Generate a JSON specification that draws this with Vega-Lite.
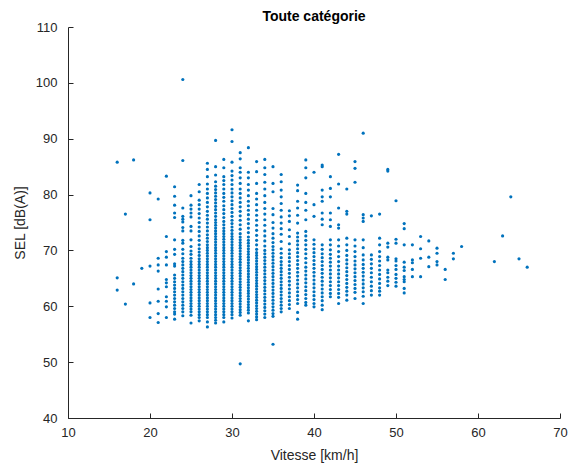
{
"$schema": "https://vega.github.io/schema/vega-lite/v6.json",
"width": 492, "height": 391,
"autosize": "none",
"padding": {"left": 68, "top": 27, "right": 15, "bottom": 49},
"background": "white",
"config": {"view": {"stroke": null}, "font": "Liberation Sans"},
"title": {"text": "Toute catégorie", "fontSize": 14, "fontWeight": "bold", "color": "#000000", "offset": -3, "anchor": "middle", "font": "Liberation Sans"},
"data": {"values": [
{"v":16,"s":85.8},{"v":16,"s":65.1},{"v":16,"s":62.9},
{"v":17,"s":76.5},{"v":17,"s":60.4},
{"v":18,"s":86.2},{"v":18,"s":64.0},
{"v":19,"s":66.8},
{"v":20,"s":80.3},{"v":20,"s":75.5},{"v":20,"s":67.2},{"v":20,"s":60.6},{"v":20,"s":58.0},
{"v":21,"s":79.2},{"v":21,"s":68.6},{"v":21,"s":67.4},{"v":21,"s":66.3},{"v":21,"s":63.1},{"v":21,"s":60.9},{"v":21,"s":58.7},{"v":21,"s":57.1},
{"v":22,"s":83.3},{"v":22,"s":72.5},{"v":22,"s":69.8},{"v":22,"s":68.8},{"v":22,"s":67.4},{"v":22,"s":64.8},{"v":22,"s":64.2},{"v":22,"s":63.5},{"v":22,"s":61.7},{"v":22,"s":60.9},{"v":22,"s":59.9},{"v":22,"s":58.0},
{"v":23,"s":81.4},{"v":23,"s":79.7},{"v":23,"s":78.1},{"v":23,"s":76.7},{"v":23,"s":75.9},{"v":23,"s":71.9},{"v":23,"s":70.2},{"v":23,"s":69.3},{"v":23,"s":67.6},{"v":23,"s":67.2},{"v":23,"s":65.6},{"v":23,"s":65.0},{"v":23,"s":64.4},{"v":23,"s":63.8},{"v":23,"s":63.2},{"v":23,"s":62.6},{"v":23,"s":62.0},{"v":23,"s":61.4},{"v":23,"s":60.8},{"v":23,"s":60.2},{"v":23,"s":59.6},{"v":23,"s":59.0},{"v":23,"s":58.6},{"v":23,"s":57.7},
{"v":24,"s":100.6},{"v":24,"s":86.1},{"v":24,"s":77.6},{"v":24,"s":76.1},{"v":24,"s":75.6},{"v":24,"s":75.1},{"v":24,"s":74.1},{"v":24,"s":73.5},{"v":24,"s":71.8},{"v":24,"s":71.3},{"v":24,"s":70.2},{"v":24,"s":69.4},{"v":24,"s":68.6},{"v":24,"s":68.0},{"v":24,"s":67.4},{"v":24,"s":66.8},{"v":24,"s":66.2},{"v":24,"s":65.6},{"v":24,"s":65.0},{"v":24,"s":64.4},{"v":24,"s":63.8},{"v":24,"s":63.2},{"v":24,"s":62.6},{"v":24,"s":62.0},{"v":24,"s":61.4},{"v":24,"s":60.8},{"v":24,"s":60.2},{"v":24,"s":59.6},{"v":24,"s":59.0},{"v":24,"s":58.3},
{"v":25,"s":79.8},{"v":25,"s":78.1},{"v":25,"s":77.4},{"v":25,"s":76.7},{"v":25,"s":76.0},{"v":25,"s":74.3},{"v":25,"s":73.5},{"v":25,"s":71.9},{"v":25,"s":70.7},{"v":25,"s":69.9},{"v":25,"s":69.3},{"v":25,"s":68.6},{"v":25,"s":68.0},{"v":25,"s":67.5},{"v":25,"s":67.0},{"v":25,"s":66.5},{"v":25,"s":66.0},{"v":25,"s":65.5},{"v":25,"s":65.0},{"v":25,"s":64.5},{"v":25,"s":64.0},{"v":25,"s":63.5},{"v":25,"s":63.0},{"v":25,"s":62.5},{"v":25,"s":62.0},{"v":25,"s":61.5},{"v":25,"s":61.0},{"v":25,"s":60.5},{"v":25,"s":60.0},{"v":25,"s":59.5},{"v":25,"s":59.0},{"v":25,"s":58.4},{"v":25,"s":57.0},
{"v":26,"s":81.8},{"v":26,"s":80.5},{"v":26,"s":79.0},{"v":26,"s":78.2},{"v":26,"s":77.4},{"v":26,"s":76.6},{"v":26,"s":75.8},{"v":26,"s":75.0},{"v":26,"s":74.2},{"v":26,"s":73.4},{"v":26,"s":72.6},{"v":26,"s":71.8},{"v":26,"s":71.0},{"v":26,"s":70.3},{"v":26,"s":69.7},{"v":26,"s":69.1},{"v":26,"s":68.5},{"v":26,"s":68.0},{"v":26,"s":67.5},{"v":26,"s":67.0},{"v":26,"s":66.5},{"v":26,"s":66.0},{"v":26,"s":65.5},{"v":26,"s":65.0},{"v":26,"s":64.5},{"v":26,"s":64.0},{"v":26,"s":63.5},{"v":26,"s":63.0},{"v":26,"s":62.5},{"v":26,"s":62.0},{"v":26,"s":61.5},{"v":26,"s":61.0},{"v":26,"s":60.5},{"v":26,"s":60.0},{"v":26,"s":59.5},{"v":26,"s":59.0},{"v":26,"s":58.5},{"v":26,"s":58.0},{"v":26,"s":57.4},
{"v":27,"s":85.6},{"v":27,"s":84.5},{"v":27,"s":83.2},{"v":27,"s":81.9},{"v":27,"s":81.0},{"v":27,"s":80.2},{"v":27,"s":79.4},{"v":27,"s":78.6},{"v":27,"s":77.8},{"v":27,"s":77.0},{"v":27,"s":76.3},{"v":27,"s":75.6},{"v":27,"s":74.9},{"v":27,"s":74.2},{"v":27,"s":73.5},{"v":27,"s":72.8},{"v":27,"s":72.2},{"v":27,"s":71.6},{"v":27,"s":71.0},{"v":27,"s":70.5},{"v":27,"s":70.0},{"v":27,"s":69.5},{"v":27,"s":69.0},{"v":27,"s":68.5},{"v":27,"s":68.0},{"v":27,"s":67.5},{"v":27,"s":67.0},{"v":27,"s":66.5},{"v":27,"s":66.0},{"v":27,"s":65.5},{"v":27,"s":65.0},{"v":27,"s":64.5},{"v":27,"s":64.0},{"v":27,"s":63.5},{"v":27,"s":63.0},{"v":27,"s":62.5},{"v":27,"s":62.0},{"v":27,"s":61.5},{"v":27,"s":61.0},{"v":27,"s":60.5},{"v":27,"s":60.0},{"v":27,"s":59.5},{"v":27,"s":59.0},{"v":27,"s":58.5},{"v":27,"s":58.0},{"v":27,"s":57.2},{"v":27,"s":56.3},
{"v":28,"s":89.7},{"v":28,"s":85.0},{"v":28,"s":83.5},{"v":28,"s":82.3},{"v":28,"s":81.5},{"v":28,"s":80.9},{"v":28,"s":80.3},{"v":28,"s":79.7},{"v":28,"s":79.1},{"v":28,"s":78.5},{"v":28,"s":77.9},{"v":28,"s":77.3},{"v":28,"s":76.7},{"v":28,"s":76.1},{"v":28,"s":75.5},{"v":28,"s":75.0},{"v":28,"s":74.5},{"v":28,"s":74.0},{"v":28,"s":73.5},{"v":28,"s":73.0},{"v":28,"s":72.5},{"v":28,"s":72.0},{"v":28,"s":71.5},{"v":28,"s":71.0},{"v":28,"s":70.5},{"v":28,"s":70.0},{"v":28,"s":69.5},{"v":28,"s":69.0},{"v":28,"s":68.5},{"v":28,"s":68.0},{"v":28,"s":67.5},{"v":28,"s":67.0},{"v":28,"s":66.5},{"v":28,"s":66.0},{"v":28,"s":65.5},{"v":28,"s":65.0},{"v":28,"s":64.5},{"v":28,"s":64.0},{"v":28,"s":63.5},{"v":28,"s":63.0},{"v":28,"s":62.5},{"v":28,"s":62.0},{"v":28,"s":61.5},{"v":28,"s":61.0},{"v":28,"s":60.5},{"v":28,"s":60.0},{"v":28,"s":59.5},{"v":28,"s":59.0},{"v":28,"s":58.5},{"v":28,"s":58.0},{"v":28,"s":57.5},{"v":28,"s":57.0},
{"v":29,"s":86.3},{"v":29,"s":84.8},{"v":29,"s":83.2},{"v":29,"s":82.5},{"v":29,"s":81.8},{"v":29,"s":81.0},{"v":29,"s":80.2},{"v":29,"s":79.5},{"v":29,"s":78.8},{"v":29,"s":78.0},{"v":29,"s":77.3},{"v":29,"s":76.6},{"v":29,"s":75.9},{"v":29,"s":75.2},{"v":29,"s":74.6},{"v":29,"s":74.0},{"v":29,"s":73.5},{"v":29,"s":73.0},{"v":29,"s":72.5},{"v":29,"s":72.0},{"v":29,"s":71.5},{"v":29,"s":71.0},{"v":29,"s":70.5},{"v":29,"s":70.0},{"v":29,"s":69.5},{"v":29,"s":69.0},{"v":29,"s":68.5},{"v":29,"s":68.0},{"v":29,"s":67.5},{"v":29,"s":67.0},{"v":29,"s":66.5},{"v":29,"s":66.0},{"v":29,"s":65.5},{"v":29,"s":65.0},{"v":29,"s":64.5},{"v":29,"s":64.0},{"v":29,"s":63.5},{"v":29,"s":63.0},{"v":29,"s":62.5},{"v":29,"s":62.0},{"v":29,"s":61.5},{"v":29,"s":61.0},{"v":29,"s":60.5},{"v":29,"s":60.0},{"v":29,"s":59.5},{"v":29,"s":59.0},{"v":29,"s":58.5},{"v":29,"s":58.0},{"v":29,"s":57.2},
{"v":30,"s":91.6},{"v":30,"s":89.5},{"v":30,"s":85.8},{"v":30,"s":84.2},{"v":30,"s":83.4},{"v":30,"s":82.6},{"v":30,"s":81.8},{"v":30,"s":81.0},{"v":30,"s":80.3},{"v":30,"s":79.6},{"v":30,"s":78.9},{"v":30,"s":78.2},{"v":30,"s":77.5},{"v":30,"s":76.8},{"v":30,"s":76.1},{"v":30,"s":75.4},{"v":30,"s":74.8},{"v":30,"s":74.2},{"v":30,"s":73.6},{"v":30,"s":73.0},{"v":30,"s":72.5},{"v":30,"s":72.0},{"v":30,"s":71.5},{"v":30,"s":71.0},{"v":30,"s":70.5},{"v":30,"s":70.0},{"v":30,"s":69.5},{"v":30,"s":69.0},{"v":30,"s":68.5},{"v":30,"s":68.0},{"v":30,"s":67.5},{"v":30,"s":67.0},{"v":30,"s":66.5},{"v":30,"s":66.0},{"v":30,"s":65.5},{"v":30,"s":65.0},{"v":30,"s":64.5},{"v":30,"s":64.0},{"v":30,"s":63.5},{"v":30,"s":63.0},{"v":30,"s":62.5},{"v":30,"s":62.0},{"v":30,"s":61.5},{"v":30,"s":61.0},{"v":30,"s":60.5},{"v":30,"s":60.0},{"v":30,"s":59.5},{"v":30,"s":59.0},{"v":30,"s":58.5},{"v":30,"s":57.9},
{"v":31,"s":87.5},{"v":31,"s":86.4},{"v":31,"s":84.8},{"v":31,"s":84.0},{"v":31,"s":83.0},{"v":31,"s":82.0},{"v":31,"s":81.0},{"v":31,"s":80.2},{"v":31,"s":79.4},{"v":31,"s":78.6},{"v":31,"s":77.8},{"v":31,"s":77.0},{"v":31,"s":76.2},{"v":31,"s":75.4},{"v":31,"s":74.6},{"v":31,"s":73.8},{"v":31,"s":73.0},{"v":31,"s":72.4},{"v":31,"s":71.9},{"v":31,"s":71.4},{"v":31,"s":70.9},{"v":31,"s":70.4},{"v":31,"s":69.9},{"v":31,"s":69.4},{"v":31,"s":68.9},{"v":31,"s":68.4},{"v":31,"s":67.9},{"v":31,"s":67.4},{"v":31,"s":66.9},{"v":31,"s":66.4},{"v":31,"s":65.9},{"v":31,"s":65.4},{"v":31,"s":64.9},{"v":31,"s":64.4},{"v":31,"s":63.9},{"v":31,"s":63.4},{"v":31,"s":62.9},{"v":31,"s":62.4},{"v":31,"s":61.9},{"v":31,"s":61.4},{"v":31,"s":60.9},{"v":31,"s":60.4},{"v":31,"s":59.9},{"v":31,"s":59.4},{"v":31,"s":58.9},{"v":31,"s":58.4},{"v":31,"s":49.7},
{"v":32,"s":88.4},{"v":32,"s":84.0},{"v":32,"s":83.0},{"v":32,"s":81.8},{"v":32,"s":80.8},{"v":32,"s":79.8},{"v":32,"s":78.8},{"v":32,"s":78.0},{"v":32,"s":77.2},{"v":32,"s":76.4},{"v":32,"s":75.6},{"v":32,"s":74.8},{"v":32,"s":74.0},{"v":32,"s":73.2},{"v":32,"s":72.4},{"v":32,"s":71.8},{"v":32,"s":71.3},{"v":32,"s":70.8},{"v":32,"s":70.3},{"v":32,"s":69.8},{"v":32,"s":69.3},{"v":32,"s":68.8},{"v":32,"s":68.3},{"v":32,"s":67.8},{"v":32,"s":67.3},{"v":32,"s":66.8},{"v":32,"s":66.3},{"v":32,"s":65.8},{"v":32,"s":65.3},{"v":32,"s":64.8},{"v":32,"s":64.3},{"v":32,"s":63.8},{"v":32,"s":63.3},{"v":32,"s":62.8},{"v":32,"s":62.3},{"v":32,"s":61.8},{"v":32,"s":61.3},{"v":32,"s":60.8},{"v":32,"s":60.3},{"v":32,"s":59.8},{"v":32,"s":59.3},{"v":32,"s":58.8},{"v":32,"s":57.4},
{"v":33,"s":85.9},{"v":33,"s":84.1},{"v":33,"s":82.0},{"v":33,"s":80.2},{"v":33,"s":79.2},{"v":33,"s":78.2},{"v":33,"s":77.2},{"v":33,"s":76.3},{"v":33,"s":75.4},{"v":33,"s":74.5},{"v":33,"s":73.6},{"v":33,"s":72.7},{"v":33,"s":71.8},{"v":33,"s":71.0},{"v":33,"s":70.2},{"v":33,"s":69.6},{"v":33,"s":69.1},{"v":33,"s":68.6},{"v":33,"s":68.1},{"v":33,"s":67.6},{"v":33,"s":67.1},{"v":33,"s":66.6},{"v":33,"s":66.1},{"v":33,"s":65.6},{"v":33,"s":65.1},{"v":33,"s":64.6},{"v":33,"s":64.1},{"v":33,"s":63.6},{"v":33,"s":63.1},{"v":33,"s":62.6},{"v":33,"s":62.1},{"v":33,"s":61.6},{"v":33,"s":61.1},{"v":33,"s":60.6},{"v":33,"s":60.1},{"v":33,"s":59.6},{"v":33,"s":59.1},{"v":33,"s":58.6},{"v":33,"s":58.1},{"v":33,"s":57.6},
{"v":34,"s":86.3},{"v":34,"s":84.8},{"v":34,"s":83.6},{"v":34,"s":82.2},{"v":34,"s":81.0},{"v":34,"s":79.8},{"v":34,"s":78.6},{"v":34,"s":77.5},{"v":34,"s":76.5},{"v":34,"s":75.5},{"v":34,"s":74.5},{"v":34,"s":73.5},{"v":34,"s":72.6},{"v":34,"s":71.7},{"v":34,"s":70.8},{"v":34,"s":70.0},{"v":34,"s":69.4},{"v":34,"s":68.8},{"v":34,"s":68.2},{"v":34,"s":67.6},{"v":34,"s":67.0},{"v":34,"s":66.4},{"v":34,"s":65.8},{"v":34,"s":65.2},{"v":34,"s":64.6},{"v":34,"s":64.0},{"v":34,"s":63.4},{"v":34,"s":62.8},{"v":34,"s":62.2},{"v":34,"s":61.6},{"v":34,"s":61.0},{"v":34,"s":60.4},{"v":34,"s":59.8},{"v":34,"s":59.2},{"v":34,"s":58.6},{"v":34,"s":58.0},
{"v":35,"s":85.0},{"v":35,"s":82.0},{"v":35,"s":80.5},{"v":35,"s":77.5},{"v":35,"s":76.4},{"v":35,"s":75.0},{"v":35,"s":74.0},{"v":35,"s":73.0},{"v":35,"s":72.2},{"v":35,"s":71.4},{"v":35,"s":70.7},{"v":35,"s":70.1},{"v":35,"s":69.5},{"v":35,"s":68.9},{"v":35,"s":68.3},{"v":35,"s":67.7},{"v":35,"s":67.1},{"v":35,"s":66.5},{"v":35,"s":65.9},{"v":35,"s":65.3},{"v":35,"s":64.7},{"v":35,"s":64.1},{"v":35,"s":63.5},{"v":35,"s":62.9},{"v":35,"s":62.3},{"v":35,"s":61.7},{"v":35,"s":61.1},{"v":35,"s":60.5},{"v":35,"s":59.9},{"v":35,"s":59.3},{"v":35,"s":58.7},{"v":35,"s":58.2},{"v":35,"s":53.2},
{"v":36,"s":83.6},{"v":36,"s":82.3},{"v":36,"s":80.8},{"v":36,"s":79.6},{"v":36,"s":78.4},{"v":36,"s":77.2},{"v":36,"s":76.0},{"v":36,"s":74.9},{"v":36,"s":73.9},{"v":36,"s":72.9},{"v":36,"s":71.6},{"v":36,"s":70.3},{"v":36,"s":69.5},{"v":36,"s":68.7},{"v":36,"s":68.0},{"v":36,"s":67.4},{"v":36,"s":66.8},{"v":36,"s":66.2},{"v":36,"s":65.6},{"v":36,"s":65.0},{"v":36,"s":64.4},{"v":36,"s":63.8},{"v":36,"s":63.2},{"v":36,"s":62.6},{"v":36,"s":62.0},{"v":36,"s":61.4},{"v":36,"s":60.8},{"v":36,"s":60.2},{"v":36,"s":59.6},{"v":36,"s":59.0},
{"v":37,"s":77.1},{"v":37,"s":76.2},{"v":37,"s":75.2},{"v":37,"s":73.7},{"v":37,"s":72.5},{"v":37,"s":71.2},{"v":37,"s":70.1},{"v":37,"s":69.4},{"v":37,"s":68.7},{"v":37,"s":68.0},{"v":37,"s":67.3},{"v":37,"s":66.6},{"v":37,"s":65.9},{"v":37,"s":65.2},{"v":37,"s":64.5},{"v":37,"s":63.8},{"v":37,"s":63.1},{"v":37,"s":62.4},{"v":37,"s":61.7},{"v":37,"s":61.0},{"v":37,"s":60.3},{"v":37,"s":59.6},
{"v":38,"s":81.7},{"v":38,"s":80.7},{"v":38,"s":78.8},{"v":38,"s":77.6},{"v":38,"s":76.3},{"v":38,"s":74.9},{"v":38,"s":73.1},{"v":38,"s":72.4},{"v":38,"s":71.7},{"v":38,"s":71.0},{"v":38,"s":70.3},{"v":38,"s":69.6},{"v":38,"s":68.9},{"v":38,"s":68.2},{"v":38,"s":67.5},{"v":38,"s":66.8},{"v":38,"s":66.1},{"v":38,"s":65.4},{"v":38,"s":64.7},{"v":38,"s":64.0},{"v":38,"s":63.3},{"v":38,"s":62.6},{"v":38,"s":61.9},{"v":38,"s":61.2},{"v":38,"s":60.5},{"v":38,"s":58.9},{"v":38,"s":57.7},
{"v":39,"s":86.2},{"v":39,"s":84.8},{"v":39,"s":83.0},{"v":39,"s":80.2},{"v":39,"s":78.6},{"v":39,"s":77.2},{"v":39,"s":75.5},{"v":39,"s":73.4},{"v":39,"s":72.6},{"v":39,"s":71.8},{"v":39,"s":71.0},{"v":39,"s":70.2},{"v":39,"s":69.4},{"v":39,"s":68.6},{"v":39,"s":67.8},{"v":39,"s":67.0},{"v":39,"s":66.3},{"v":39,"s":65.6},{"v":39,"s":64.9},{"v":39,"s":64.2},{"v":39,"s":63.5},{"v":39,"s":62.8},{"v":39,"s":62.1},{"v":39,"s":61.4},{"v":39,"s":60.7},{"v":39,"s":60.2},
{"v":40,"s":84.0},{"v":40,"s":78.2},{"v":40,"s":76.1},{"v":40,"s":71.9},{"v":40,"s":71.1},{"v":40,"s":70.3},{"v":40,"s":69.6},{"v":40,"s":68.9},{"v":40,"s":68.2},{"v":40,"s":67.5},{"v":40,"s":66.8},{"v":40,"s":66.1},{"v":40,"s":65.4},{"v":40,"s":64.7},{"v":40,"s":64.0},{"v":40,"s":63.3},{"v":40,"s":62.6},{"v":40,"s":61.9},{"v":40,"s":61.2},{"v":40,"s":60.5},{"v":40,"s":59.9},
{"v":41,"s":85.3},{"v":41,"s":85.0},{"v":41,"s":80.8},{"v":41,"s":79.6},{"v":41,"s":78.8},{"v":41,"s":76.7},{"v":41,"s":75.6},{"v":41,"s":74.6},{"v":41,"s":71.0},{"v":41,"s":70.2},{"v":41,"s":69.4},{"v":41,"s":68.7},{"v":41,"s":68.0},{"v":41,"s":67.3},{"v":41,"s":66.6},{"v":41,"s":65.9},{"v":41,"s":65.2},{"v":41,"s":64.5},{"v":41,"s":63.8},{"v":41,"s":63.1},{"v":41,"s":62.4},{"v":41,"s":61.7},{"v":41,"s":61.0},{"v":41,"s":60.2},{"v":41,"s":59.4},
{"v":42,"s":83.2},{"v":42,"s":81.1},{"v":42,"s":79.6},{"v":42,"s":76.7},{"v":42,"s":75.5},{"v":42,"s":74.3},{"v":42,"s":71.9},{"v":42,"s":71.0},{"v":42,"s":70.1},{"v":42,"s":69.3},{"v":42,"s":68.6},{"v":42,"s":67.9},{"v":42,"s":67.2},{"v":42,"s":66.5},{"v":42,"s":65.8},{"v":42,"s":65.1},{"v":42,"s":64.4},{"v":42,"s":63.7},{"v":42,"s":63.0},{"v":42,"s":62.3},{"v":42,"s":61.7},
{"v":43,"s":87.2},{"v":43,"s":81.9},{"v":43,"s":77.6},{"v":43,"s":74.6},{"v":43,"s":74.0},{"v":43,"s":71.9},{"v":43,"s":70.8},{"v":43,"s":69.8},{"v":43,"s":68.9},{"v":43,"s":68.0},{"v":43,"s":67.2},{"v":43,"s":66.5},{"v":43,"s":65.8},{"v":43,"s":65.1},{"v":43,"s":64.4},{"v":43,"s":63.7},{"v":43,"s":63.0},{"v":43,"s":62.3},{"v":43,"s":61.6},{"v":43,"s":60.5},
{"v":44,"s":81.0},{"v":44,"s":77.0},{"v":44,"s":76.5},{"v":44,"s":72.2},{"v":44,"s":71.0},{"v":44,"s":70.0},{"v":44,"s":69.1},{"v":44,"s":68.3},{"v":44,"s":67.6},{"v":44,"s":66.9},{"v":44,"s":66.2},{"v":44,"s":65.5},{"v":44,"s":64.8},{"v":44,"s":64.1},{"v":44,"s":63.4},{"v":44,"s":62.7},{"v":44,"s":62.0},{"v":44,"s":61.1},
{"v":45,"s":85.9},{"v":45,"s":84.7},{"v":45,"s":82.2},{"v":45,"s":71.9},{"v":45,"s":70.8},{"v":45,"s":69.8},{"v":45,"s":68.9},{"v":45,"s":68.1},{"v":45,"s":67.4},{"v":45,"s":66.7},{"v":45,"s":66.0},{"v":45,"s":65.3},{"v":45,"s":64.6},{"v":45,"s":63.9},{"v":45,"s":63.2},{"v":45,"s":62.5},{"v":45,"s":61.4},
{"v":46,"s":91.0},{"v":46,"s":76.4},{"v":46,"s":75.8},{"v":46,"s":75.2},{"v":46,"s":71.9},{"v":46,"s":70.5},{"v":46,"s":69.2},{"v":46,"s":68.3},{"v":46,"s":67.5},{"v":46,"s":66.8},{"v":46,"s":66.1},{"v":46,"s":65.4},{"v":46,"s":64.7},{"v":46,"s":64.0},{"v":46,"s":63.3},{"v":46,"s":62.6},{"v":46,"s":61.8},{"v":46,"s":60.5},
{"v":47,"s":76.2},{"v":47,"s":69.2},{"v":47,"s":68.4},{"v":47,"s":67.6},{"v":47,"s":66.8},{"v":47,"s":66.0},{"v":47,"s":65.2},{"v":47,"s":64.4},{"v":47,"s":63.6},{"v":47,"s":62.8},{"v":47,"s":62.0},
{"v":48,"s":76.5},{"v":48,"s":72.2},{"v":48,"s":71.0},{"v":48,"s":69.8},{"v":48,"s":68.9},{"v":48,"s":68.1},{"v":48,"s":67.3},{"v":48,"s":66.5},{"v":48,"s":65.7},{"v":48,"s":64.9},{"v":48,"s":64.1},{"v":48,"s":63.3},{"v":48,"s":62.7},{"v":48,"s":62.0},
{"v":49,"s":84.5},{"v":49,"s":84.2},{"v":49,"s":71.3},{"v":49,"s":70.6},{"v":49,"s":68.8},{"v":49,"s":68.3},{"v":49,"s":66.5},{"v":49,"s":66.0},{"v":49,"s":65.2},{"v":49,"s":64.5},{"v":49,"s":63.7},
{"v":50,"s":78.9},{"v":50,"s":72.0},{"v":50,"s":71.3},{"v":50,"s":68.5},{"v":50,"s":68.1},{"v":50,"s":67.3},{"v":50,"s":66.6},{"v":50,"s":65.7},{"v":50,"s":65.0},{"v":50,"s":64.3},{"v":50,"s":63.6},
{"v":51,"s":74.8},{"v":51,"s":73.9},{"v":51,"s":71.0},{"v":51,"s":67.9},{"v":51,"s":67.0},{"v":51,"s":66.4},{"v":51,"s":65.3},{"v":51,"s":64.8},{"v":51,"s":64.4},{"v":51,"s":63.2},{"v":51,"s":62.4},
{"v":52,"s":71.0},{"v":52,"s":68.3},{"v":52,"s":67.8},{"v":52,"s":66.6},{"v":52,"s":65.3},
{"v":53,"s":72.5},{"v":53,"s":70.3},{"v":53,"s":68.6},{"v":53,"s":65.3},
{"v":54,"s":71.7},{"v":54,"s":68.8},{"v":54,"s":67.1},
{"v":55,"s":70.4},{"v":55,"s":69.5},{"v":55,"s":68.0},{"v":55,"s":67.4},
{"v":56,"s":66.6},{"v":56,"s":64.8},
{"v":57,"s":69.5},{"v":57,"s":68.5},
{"v":58,"s":70.7},
{"v":62,"s":68.0},
{"v":63,"s":72.6},
{"v":64,"s":79.6},
{"v":65,"s":68.5},
{"v":66,"s":67.0}
]},
"mark": {"type": "point", "filled": true, "shape": "circle", "size": 10, "color": "#0072BD", "opacity": 1},
"encoding": {
"x": {"field": "v", "type": "quantitative", "scale": {"domain": [10, 70], "nice": false, "zero": false},
 "axis": {"title": "Vitesse [km/h]", "values": [10,20,30,40,50,60,70], "grid": false, "domainColor": "#262626", "tickColor": "#262626", "tickSize": -5, "labelPadding": 13, "labelColor": "#262626", "labelFontSize": 13, "labelFont": "Liberation Sans", "titleFont": "Liberation Sans", "titleFontSize": 14, "titleFontWeight": "normal", "titleColor": "#262626", "titlePadding": 9, "labelFlush": false}},
"y": {"field": "s", "type": "quantitative", "scale": {"domain": [40, 110], "nice": false, "zero": false},
 "axis": {"title": "SEL [dB(A)]", "values": [40,50,60,70,80,90,100,110], "grid": false, "domainColor": "#262626", "tickColor": "#262626", "tickSize": -5, "labelPadding": 16, "labelColor": "#262626", "labelFontSize": 13, "labelFont": "Liberation Sans", "titleFont": "Liberation Sans", "titleFontSize": 14, "titleFontWeight": "normal", "titleColor": "#262626", "titlePadding": 8, "labelFlush": false}}
}
}
